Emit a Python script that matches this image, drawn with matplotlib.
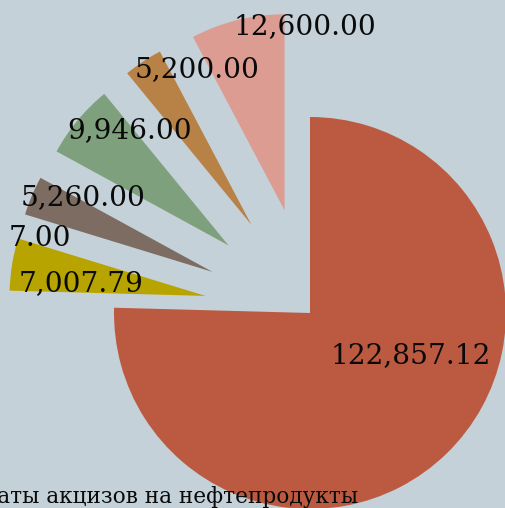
import numpy as np
import matplotlib.pyplot as plt

# Datos del gráfico (orden de dibujo, en sentido horario desde arriba)
valores = [122857.12, 7007.79, 7.00, 5260.00, 9946.00, 5200.00, 12600.00]
etiquetas = [f"{v:,.2f}" for v in valores]
titulo = "Выплаты акцизов на нефтепродукты"

# Estilo
colores = ['#bc5a41', '#b8a400', '#d0d9de', '#7c6c61', '#7fa07d', '#b88246', '#dc9c92']
separacion = [0, 0.54, 0.54, 0.54, 0.54, 0.54, 0.54]
fondo = '#c5d1d8'

# Posición de las etiquetas (ángulo en grados, distancia en radios)
ang_etiquetas = [-23, 172.7, 164.5, 153, 134.7, 114.9, 91]
dist_etiquetas = [0.56, 1.18, 1.43, 1.30, 1.31, 1.37, 1.46]

# Geometría en píxeles de la figura
ancho, alto = 506, 508
centro_px = (310, 313)
radio_px = 196

fig = plt.figure(figsize=(ancho / 100, alto / 100), dpi=100, facecolor=fondo)
ax = fig.add_axes([0, 0, 1, 1])
ax.set_facecolor(fondo)

ax.pie(valores, colors=colores, explode=separacion, startangle=90,
       counterclock=False, radius=1, wedgeprops=dict(linewidth=0))

for texto, ang, dist in zip(etiquetas, ang_etiquetas, dist_etiquetas):
    a = np.deg2rad(ang)
    ax.text(dist * np.cos(a), dist * np.sin(a), texto, ha='center', va='center',
            fontsize=20.2, family='DejaVu Serif', color='#0a0a0a')

ax.set_xlim(-centro_px[0] / radio_px, (ancho - centro_px[0]) / radio_px)
ax.set_ylim(-(alto - centro_px[1]) / radio_px, centro_px[1] / radio_px)
ax.set_aspect('auto')
ax.axis('off')

fig.text(358 / ancho, (alto - 497) / alto, titulo, ha='right', va='center',
         fontsize=15.6, family='DejaVu Serif', color='#0a0a0a')

fig.savefig('out.png', dpi=100, facecolor=fondo)
